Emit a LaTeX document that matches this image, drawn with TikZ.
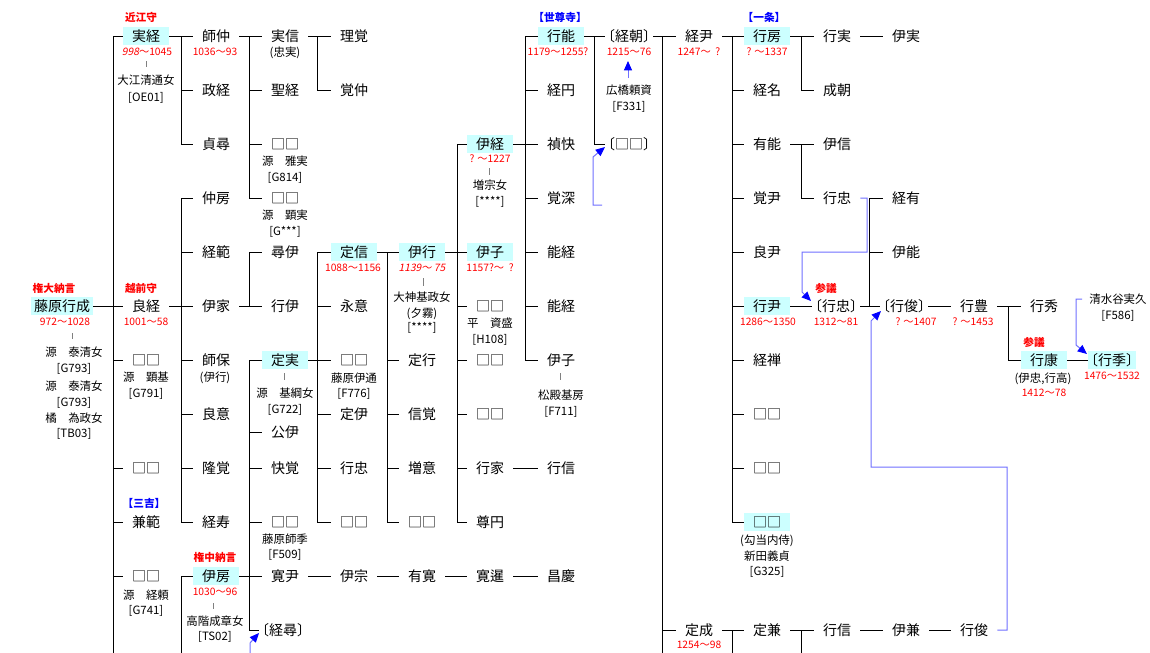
\documentclass[tikz,border=0pt]{standalone}
\usepackage{fontspec}
\setmainfont{Noto Sans CJK JP}
\newfontfamily\jpit[FakeSlant=0.2]{Noto Sans CJK JP}
\usetikzlibrary{arrows.meta}
\definecolor{hlc}{RGB}{204,255,255}
\definecolor{rd}{RGB}{255,0,0}
\definecolor{bl}{RGB}{0,0,255}
\definecolor{lbl}{RGB}{112,112,255}
\definecolor{gr}{RGB}{128,128,128}
\newcommand\LK{\kern-.5em〔}
\newcommand\RK{〕\kern-.5em}
\newcommand\LB{\kern-.5em【}
\newcommand\RB{】\kern-.5em}
\tikzset{
 nm/.style={font=\fontsize{10.5pt}{12pt}\selectfont, minimum width=34.5pt, minimum height=13.5pt, inner xsep=2.5pt, inner ysep=0pt, text height=9pt, text depth=1pt},
 hl/.style={nm, fill=hlc},
 sub/.style={font=\fontsize{8.6pt}{10pt}\selectfont, inner sep=0pt, text height=7.5pt, text depth=1pt},
 dt/.style={font=\fontsize{7.7pt}{9pt}\selectfont, text=rd, inner sep=0pt, text height=6.4pt, text depth=1pt},
 rl/.style={font=\bfseries\fontsize{8pt}{9pt}\selectfont, text=rd, inner sep=0pt, text height=7.1pt, text depth=1pt},
 bll/.style={font=\bfseries\fontsize{8pt}{9pt}\selectfont, text=bl, inner sep=0pt, text height=7.1pt, text depth=1pt},
 ln/.style={draw=black, line width=0.75pt, line cap=rect},
 gtick/.style={draw=gr, line width=0.75pt},
 adopt/.style={draw=lbl, line width=0.75pt, -{Triangle[length=7pt,width=6pt,color=bl,fill=bl]}},
}
\begin{document}
\begin{tikzpicture}[x=0.75pt,y=-0.75pt]
\useasboundingbox (0,0) rectangle (1150,653);
\fill[white] (0,0) rectangle (1150,653);
\clip (0,0) rectangle (1150,653);

% vertical line positions
\coordinate (v1) at (113,0);
\coordinate (v2) at (181,0);
\coordinate (v3) at (249,0);
\coordinate (v4) at (317,0);
\coordinate (v5) at (387,0);
\coordinate (v6) at (457,0);
\coordinate (v7) at (525,0);
\coordinate (v8) at (594,0);
\coordinate (v9) at (662,0);
\coordinate (v10) at (732,0);
\coordinate (v11) at (801,0);
\coordinate (v12) at (869,0);
\coordinate (v14) at (1008,0);
\coordinate (b1) at (113,653);
\coordinate (b2) at (181,653);
\coordinate (b9) at (662,653);
\coordinate (b10) at (732,653);
\coordinate (b11) at (801,653);

% ---------- names ----------
\node[hl] (yukinari) at (62,306) {藤原行成};

\node[hl] (sanetsune) at (146,36) {実経};
\node[nm] (yoshitsune) at (146,306) {良経};
\node[nm] (c1b) at (146,360) {□□};
\node[nm] (c1c) at (146,468) {□□};
\node[nm] (kanenori) at (146,522) {兼範};
\node[nm] (c1d) at (146,576) {□□};

\node[nm] (morinaka) at (216,36) {師仲};
\node[nm] (masatsune) at (216,90) {政経};
\node[nm] (sadahiro) at (216,144) {貞尋};
\node[nm] (nakafusa) at (216,198) {仲房};
\node[nm] (tsunenori) at (216,252) {経範};
\node[nm] (koreie) at (216,306) {伊家};
\node[nm] (moroyasu) at (216,360) {師保};
\node[nm] (ryoui) at (216,414) {良意};
\node[nm] (ryukaku) at (216,468) {隆覚};
\node[nm] (keiju) at (216,522) {経寿};
\node[hl] (korefusa) at (216,576) {伊房};

\node[nm] (sanenobu) at (285,36) {実信};
\node[nm] (seikei) at (285,90) {聖経};
\node[nm] (c3a) at (285,144) {□□};
\node[nm] (c3b) at (285,198) {□□};
\node[nm] (jini) at (285,252) {尋伊};
\node[nm] (gyoi) at (285,306) {行伊};
\node[hl] (sadazane) at (285,360) {定実};
\node[nm] (koi) at (285,432) {公伊};
\node[nm] (kaikaku) at (285,468) {快覚};
\node[nm] (c3c) at (285,522) {□□};
\node[nm] (kanin) at (285,576) {寛尹};
\node[nm] (keijin) at (283,630) {\LK 経尋\RK};

\node[nm] (rikaku) at (354,36) {理覚};
\node[nm] (kakuchu) at (354,90) {覚仲};
\node[hl] (sadanobu) at (354,252) {定信};
\node[nm] (eii) at (354,306) {永意};
\node[nm] (c4a) at (354,360) {□□};
\node[nm] (jyoi) at (354,414) {定伊};
\node[nm] (yukitadaA) at (354,468) {行忠};
\node[nm] (c4b) at (354,522) {□□};
\node[nm] (ishu) at (354,576) {伊宗};

\node[hl] (koreyuki) at (422,252) {伊行};
\node[nm] (sadayuki) at (422,360) {定行};
\node[nm] (shinkaku) at (422,414) {信覚};
\node[nm] (zoui) at (422,468) {増意};
\node[nm] (c5a) at (422,522) {□□};
\node[nm] (yukan) at (422,576) {有寛};

\node[hl] (koretsune) at (490,144) {伊経};
\node[hl] (koreko) at (490,252) {伊子};
\node[nm] (c6a) at (490,306) {□□};
\node[nm] (c6b) at (490,360) {□□};
\node[nm] (c6c) at (490,414) {□□};
\node[nm] (yukiie) at (490,468) {行家};
\node[nm] (sonen) at (490,522) {尊円};
\node[nm] (kansen) at (490,576) {寛暹};

\node[hl] (yukiyoshi) at (561,36) {行能};
\node[nm] (keien) at (561,90) {経円};
\node[nm] (teikai) at (561,144) {禎快};
\node[nm] (kakushin) at (561,198) {覚深};
\node[nm] (yoshitsuneB) at (561,252) {能経};
\node[nm] (yoshitsuneC) at (561,306) {能経};
\node[nm] (korekoB) at (561,360) {伊子};
\node[nm] (yukinobuA) at (561,468) {行信};
\node[nm] (shokei) at (561,576) {昌慶};

\node[nm] (tsunetomo) at (629,36) {\LK 経朝\RK};
\node[nm] (c8a) at (629,144) {\LK □□\RK};

\node[nm] (tsunetada) at (699,36) {経尹};
\node[nm] (sadanari) at (699,630) {定成};

\node[hl] (yukifusa) at (767,36) {行房};
\node[nm] (tsunena) at (767,90) {経名};
\node[nm] (ariyoshi) at (767,144) {有能};
\node[nm] (kakuin) at (767,198) {覚尹};
\node[nm] (ryoin) at (767,252) {良尹};
\node[hl] (yukitada) at (767,306) {行尹};
\node[nm] (keizen) at (767,360) {経禅};
\node[nm] (c10a) at (767,414) {□□};
\node[nm] (c10b) at (767,468) {□□};
\node[hl] (c10c) at (767,522) {□□};
\node[nm] (sadakane) at (767,630) {定兼};

\node[nm] (yukizane) at (837,36) {行実};
\node[nm] (naritomo) at (837,90) {成朝};
\node[nm] (korenobu) at (837,144) {伊信};
\node[nm] (yukitadaB) at (837,198) {行忠};
\node[nm] (yukitadaC) at (836,306) {\LK 行忠\RK};
\node[nm] (yukinobuB) at (837,630) {行信};

\node[nm] (korezane) at (906,36) {伊実};
\node[nm] (tsuneari) at (906,198) {経有};
\node[nm] (koreyoshi) at (906,252) {伊能};
\node[nm] (yukitoshi) at (904,306) {\LK 行俊\RK};
\node[nm] (korekane) at (906,630) {伊兼};

\node[nm] (yukitoyo) at (974,306) {行豊};
\node[nm] (yukitoshiB) at (974,630) {行俊};

\node[nm] (yukihide) at (1044,306) {行秀};
\node[hl] (yukiyasu) at (1044,360) {行康};
\node[hl] (yukisue) at (1112,360) {\LK 行季\RK};

% ---------- annotations ----------
\node[rl] (t1) at (54,288) {権大納言};
\node[dt] (t2) at (65,322) {972～1028};
\draw[gtick] (72,333) -- (72,339);
\node[sub] (t3) at (74,352) {源　泰清女};
\node[sub] (t4) at (74,368) {[G793]};
\node[sub] (t5) at (74,386) {源　泰清女};
\node[sub] (t6) at (74,402) {[G793]};
\node[sub] (t7) at (74,418) {橘　為政女};
\node[sub] (t8) at (74,433) {[TB03]};

\node[rl] (t9) at (141,17) {近江守};
\node[dt] (t10) at (147,52) {{\jpit 998}～1045};
\draw[gtick] (146,61) -- (146,67);
\node[sub] (t11) at (146,80) {大江清通女};
\node[sub] (t12) at (146,97) {[OE01]};
\node[rl] (t13) at (141,288) {越前守};
\node[dt] (t14) at (146,322) {1001～58};
\node[sub] (t15) at (146,377) {源　顕基};
\node[sub] (t16) at (146,393) {[G791]};
\node[bll] (t17) at (144,503) {\LB 三吉\RB};
\node[sub] (t18) at (146,595) {源　経頼};
\node[sub] (t19) at (146,610) {[G741]};

\node[dt] (t20) at (215,52) {1036～93};
\node[sub] (t21) at (215,377) {(伊行)};
\node[rl] (t22) at (215,557) {権中納言};
\node[dt] (t23) at (215,592) {1030～96};
\draw[gtick] (213,603) -- (213,609);
\node[sub] (t24) at (215,621) {高階成章女};
\node[sub] (t25) at (215,636) {[TS02]};

\node[sub] (t26) at (285,52) {(忠実)};
\node[sub] (t27) at (285,161) {源　雅実};
\node[sub] (t28) at (285,177) {[G814]};
\node[sub] (t29) at (285,215) {源　顕実};
\node[sub] (t30) at (285,231) {[G***]};
\draw[gtick] (284,373) -- (284,380);
\node[sub] (t31) at (285,393) {源　基綱女};
\node[sub] (t32) at (285,409) {[G722]};
\node[sub] (t33) at (285,539) {藤原師季};
\node[sub] (t34) at (285,554) {[F509]};

\node[dt] (t35) at (353,268) {1088～1156};
\node[sub] (t36) at (354,378) {藤原伊通};
\node[sub] (t37) at (354,393) {[F776]};

\node[dt] (t38) at (422,268) {{\jpit 1139～ 75}};
\draw[gtick] (423,278) -- (423,286);
\node[sub] (t39) at (422,297) {大神基政女};
\node[sub] (t40) at (422,313) {(夕霧)};
\node[sub] (t41) at (422,327) {[****]};

\node[dt] (t42) at (490,159) {? ～1227};
\draw[gtick] (489,168) -- (489,175);
\node[sub] (t43) at (490,185) {増宗女};
\node[sub] (t44) at (490,201) {[****]};
\node[dt] (t45) at (490,268) {1157?～ \ ?};
\node[sub] (t46) at (490,323) {平　資盛};
\node[sub] (t47) at (490,339) {[H108]};

\node[bll] (t48) at (560,17) {\LB 世尊寺\RB};
\node[dt] (t49) at (558,52) {1179～1255?};
\draw[gtick] (560,373) -- (560,380);
\node[sub] (t50) at (561,395) {松殿基房};
\node[sub] (t51) at (561,411) {[F711]};

\node[dt] (t52) at (629,52) {1215～76};
\node[sub] (t53) at (629,90) {広橋頼資};
\node[sub] (t54) at (629,106) {[F331]};

\node[dt] (t55) at (699,52) {1247～ \ ?};
\node[dt] (t56) at (699,645) {1254～98};

\node[bll] (t57) at (764,17) {\LB 一条\RB};
\node[dt] (t58) at (767,52) {? ～1337};
\node[dt] (t59) at (768,322) {1286～1350};
\node[sub] (t60) at (767,540) {(勾当内侍)};
\node[sub] (t61) at (767,556) {新田義貞};
\node[sub] (t62) at (767,571) {[G325]};

\node[rl] (t63) at (826,288) {参議};
\node[dt] (t64) at (836,322) {1312～81};
\node[dt] (t65) at (916,322) {? ～1407};
\node[dt] (t66) at (973,322) {? ～1453};
\node[rl] (t67) at (1034,342) {参議};
\node[sub] (t68) at (1043,378) {(伊忠,行高)};
\node[dt] (t69) at (1044,393) {1412～78};
\node[dt] (t70) at (1112,376) {1476～1532};
\node[sub] (shimizu) at (1118,299) {清水谷実久};
\node[sub] (t71) at (1118,315) {[F586]};

% ---------- family lines ----------
% 1 行成
\draw[ln] (yukinari.east) -- (v1 |- yukinari.east);
\draw[ln] (v1 |- sanetsune.west) -- (b1);
\foreach \c in {sanetsune,yoshitsune,c1b,c1c,kanenori,c1d} {\draw[ln] (v1 |- \c.west) -- (\c.west);}
% 2 実経
\draw[ln] (sanetsune.east) -- (v2 |- sanetsune.east);
\draw[ln] (v2 |- morinaka.west) -- (v2 |- sadahiro.west);
\foreach \c in {morinaka,masatsune,sadahiro} {\draw[ln] (v2 |- \c.west) -- (\c.west);}
% 3 良経
\draw[ln] (yoshitsune.east) -- (v2 |- yoshitsune.east);
\draw[ln] (v2 |- nakafusa.west) -- (v2 |- keiju.west);
\foreach \c in {nakafusa,tsunenori,koreie,moroyasu,ryoui,ryukaku,keiju} {\draw[ln] (v2 |- \c.west) -- (\c.west);}
% 4 伊房 (parent below)
\draw[ln] (v2 |- korefusa.west) -- (b2);
\draw[ln] (v2 |- korefusa.west) -- (korefusa.west);
% 5 師仲
\draw[ln] (morinaka.east) -- (v3 |- morinaka.east);
\draw[ln] (v3 |- sanenobu.west) -- (v3 |- c3b.west);
\foreach \c in {sanenobu,seikei,c3a,c3b} {\draw[ln] (v3 |- \c.west) -- (\c.west);}
% 6 伊家
\draw[ln] (koreie.east) -- (v3 |- koreie.east);
\draw[ln] (v3 |- jini.west) -- (v3 |- gyoi.west);
\foreach \c in {jini,gyoi} {\draw[ln] (v3 |- \c.west) -- (\c.west);}
% 7 伊房
\draw[ln] (korefusa.east) -- (v3 |- korefusa.east);
\draw[ln] (v3 |- sadazane.west) -- (v3 |- keijin.west);
\foreach \c in {sadazane,koi,kaikaku,c3c,kanin,keijin} {\draw[ln] (v3 |- \c.west) -- (\c.west);}
% 8 実信
\draw[ln] (sanenobu.east) -- (v4 |- sanenobu.east);
\draw[ln] (v4 |- rikaku.west) -- (v4 |- kakuchu.west);
\foreach \c in {rikaku,kakuchu} {\draw[ln] (v4 |- \c.west) -- (\c.west);}
% 9 定実
\draw[ln] (sadazane.east) -- (v4 |- sadazane.east);
\draw[ln] (v4 |- sadanobu.west) -- (v4 |- c4b.west);
\foreach \c in {sadanobu,eii,c4a,jyoi,yukitadaA,c4b} {\draw[ln] (v4 |- \c.west) -- (\c.west);}
% 10 定信
\draw[ln] (sadanobu.east) -- (v5 |- sadanobu.east);
\draw[ln] (v5 |- koreyuki.west) -- (v5 |- c5a.west);
\foreach \c in {koreyuki,sadayuki,shinkaku,zoui,c5a} {\draw[ln] (v5 |- \c.west) -- (\c.west);}
% 11 伊行
\draw[ln] (koreyuki.east) -- (v6 |- koreyuki.east);
\draw[ln] (v6 |- koretsune.west) -- (v6 |- sonen.west);
\foreach \c in {koretsune,koreko,c6a,c6b,c6c,yukiie,sonen} {\draw[ln] (v6 |- \c.west) -- (\c.west);}
% 12 伊経
\draw[ln] (koretsune.east) -- (v7 |- koretsune.east);
\draw[ln] (v7 |- yukiyoshi.west) -- (v7 |- korekoB.west);
\foreach \c in {yukiyoshi,keien,teikai,kakushin,yoshitsuneB,yoshitsuneC,korekoB} {\draw[ln] (v7 |- \c.west) -- (\c.west);}
% 13 行能
\draw[ln] (yukiyoshi.east) -- (v8 |- yukiyoshi.east);
\draw[ln] (v8 |- tsunetomo.west) -- (v8 |- c8a.west);
\foreach \c in {tsunetomo,c8a} {\draw[ln] (v8 |- \c.west) -- (\c.west);}
% 14 経朝
\draw[ln] (tsunetomo.east) -- (v9 |- tsunetomo.east);
\draw[ln] (v9 |- tsunetada.west) -- (b9);
\foreach \c in {tsunetada,sadanari} {\draw[ln] (v9 |- \c.west) -- (\c.west);}
% 15 経尹
\draw[ln] (tsunetada.east) -- (v10 |- tsunetada.east);
\draw[ln] (v10 |- yukifusa.west) -- (v10 |- c10c.west);
\foreach \c in {yukifusa,tsunena,ariyoshi,kakuin,ryoin,yukitada,keizen,c10a,c10b,c10c} {\draw[ln] (v10 |- \c.west) -- (\c.west);}
% 16 定成
\draw[ln] (sadanari.east) -- (v10 |- sadanari.east);
\draw[ln] (v10 |- sadakane.west) -- (b10);
\draw[ln] (v10 |- sadakane.west) -- (sadakane.west);
% 17 行房
\draw[ln] (yukifusa.east) -- (v11 |- yukifusa.east);
\draw[ln] (v11 |- yukizane.west) -- (v11 |- naritomo.west);
\foreach \c in {yukizane,naritomo} {\draw[ln] (v11 |- \c.west) -- (\c.west);}
% 18 有能
\draw[ln] (ariyoshi.east) -- (v11 |- ariyoshi.east);
\draw[ln] (v11 |- korenobu.west) -- (v11 |- yukitadaB.west);
\foreach \c in {korenobu,yukitadaB} {\draw[ln] (v11 |- \c.west) -- (\c.west);}
% 19 定兼
\draw[ln] (sadakane.east) -- (v11 |- sadakane.east);
\draw[ln] (v11 |- yukinobuB.west) -- (b11);
\draw[ln] (v11 |- yukinobuB.west) -- (yukinobuB.west);
% 20 〔行忠〕
\draw[ln] (yukitadaC.east) -- (v12 |- yukitadaC.east);
\draw[ln] (v12 |- tsuneari.west) -- (v12 |- yukitoshi.west);
\foreach \c in {tsuneari,koreyoshi,yukitoshi} {\draw[ln] (v12 |- \c.west) -- (\c.west);}
% 21 行豊
\draw[ln] (yukitoyo.east) -- (v14 |- yukitoyo.east);
\draw[ln] (v14 |- yukihide.west) -- (v14 |- yukiyasu.west);
\foreach \c in {yukihide,yukiyasu} {\draw[ln] (v14 |- \c.west) -- (\c.west);}
% direct lines
\draw[ln] (yukizane) -- (korezane);
\draw[ln] (yukitada) -- (yukitadaC);
\draw[ln] (yukitoshi) -- (yukitoyo);
\draw[ln] (yukiyasu) -- (yukisue);
\draw[ln] (kanin) -- (ishu);
\draw[ln] (ishu) -- (yukan);
\draw[ln] (yukan) -- (kansen);
\draw[ln] (kansen) -- (shokei);
\draw[ln] (yukiie) -- (yukinobuA);
\draw[ln] (yukinobuB) -- (korekane);
\draw[ln] (korekane) -- (yukitoshiB);

% ---------- adoption arrows ----------
\coordinate (a1s) at (602,205);
\coordinate (a1e) at (605,147);
\draw[adopt] (a1s) -- (593,205) -- (593,157) -- (a1e);
\coordinate (a2s) at (628,78);
\coordinate (a2e) at (628,61);
\draw[adopt] (a2s) -- (a2e);
\coordinate (a3e) at (811,301);
\draw[adopt] (yukitadaB.east) -- (867,198) -- (867,252) -- (802,252) -- (802,292) -- (a3e);
\coordinate (a4e) at (881,311);
\draw[adopt] (yukitoshiB.east) -- (1007,630) -- (1007,467) -- (871,467) -- (871,321) -- (a4e);
\coordinate (a5s) at (1082,299);
\coordinate (a5e) at (1087,354);
\draw[adopt] (a5s) -- (1076,299) -- (1076,345) -- (a5e);
\coordinate (a6s) at (250,653);
\coordinate (a6e) at (259,633);
\draw[adopt] (a6s) -- (250,643) -- (a6e);
\end{tikzpicture}
\end{document}
